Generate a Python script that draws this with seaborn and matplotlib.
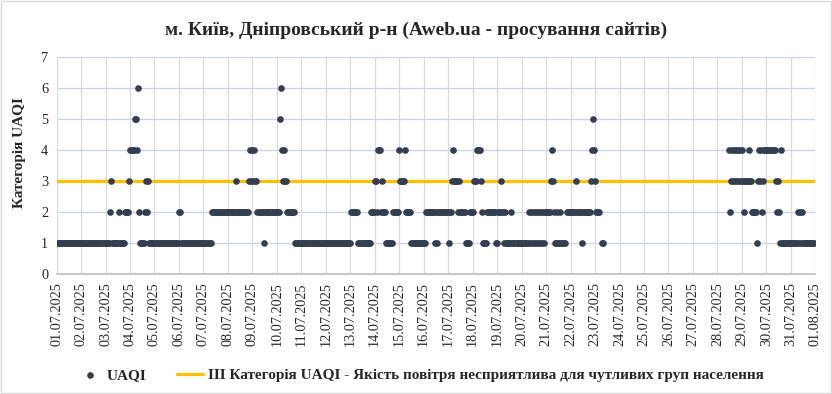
import matplotlib.pyplot as plt
import matplotlib.patches as mpatches
import seaborn as sns
import pandas as pd

title = "м. Київ, Дніпровський р-н (Aweb.ua - просування сайтів)"
y_label = "Категорія UAQI"
series_label = "UAQI"
threshold_label = "III Категорія UAQI - Якість повітря несприятлива для чутливих груп населення"
threshold_value = 3
y_ticks = [0, 1, 2, 3, 4, 5, 6, 7]
date_labels = [f"{d:02d}.07.2025" for d in range(1, 32)] + ["01.08.2025"]

# hourly UAQI category per day (00h..23h), '.' = no data
uaqi_hourly = [
    "111111111111111111111111",  # 01.07
    "111111111111111111111111",  # 02.07
    "111123111111121111122223",  # 03.07
    "444445546211111232311111",  # 04.07
    "111111111111111111111111",  # 05.07
    "221111111111111111111111",  # 06.07
    "111111112222222222222222",  # 07.07
    "222222223222222222222343",  # 08.07
    "434332222221222222222222",  # 09.07
    "222564343322222222111111",  # 10.07
    "111111111111111111111111",  # 11.07
    "111111111111111111111111",  # 12.07
    "122222221111111111112222",  # 13.07
    "332444232221111111222222",  # 14.07
    "433333422222111111111111",  # 15.07
    "112222222221212222222222",  # 16.07
    "212234333323222221111222",  # 17.07
    "233344443211112222222221",  # 18.07
    "122232212111112111111111",  # 19.07
    "111111121212121212121212",  # 20.07
    "222223432112112111112222",  # 21.07
    "222223222221222222223454",  # 22.07
    "32222..11...............",  # 23.07
    "........................",  # 24.07
    "........................",  # 25.07
    "........................",  # 26.07
    "........................",  # 27.07
    "...........4234343434343",  # 28.07
    "432333343322222134342344",  # 29.07
    "444444444323214111111111",  # 30.07
    "111111121212111111111111",  # 31.07
]

rows = []
for day, hours in enumerate(uaqi_hourly):
    for hour, ch in enumerate(hours):
        if ch != ".":
            rows.append((day + hour / 24, int(ch)))
df = pd.DataFrame(rows, columns=["t", "uaqi"])

sns.set_theme(style="white")
plt.rcParams["font.family"] = ["Liberation Serif", "DejaVu Serif"]

fig = plt.figure(figsize=(8.32, 3.94), dpi=100)
ax = fig.add_axes([0.068, 0.305, 0.912, 0.5505])

sns.scatterplot(data=df, x="t", y="uaqi", ax=ax, color="#333F50", s=23,
                linewidth=0, label=series_label, zorder=3)
ax.axhline(threshold_value, color="#FFC000", lw=2.3, label=threshold_label, zorder=2)

ax.set_xlim(0, len(date_labels) - 1)
ax.set_ylim(0, 7)
ax.set_xticks(range(len(date_labels)))
ax.set_xticklabels(date_labels, rotation=90, fontsize=10.3, color="#262626")
ax.set_yticks(y_ticks)
ax.set_yticklabels(y_ticks, fontsize=10.3, color="#262626")
ax.tick_params(length=0, pad=6)
ax.set_xlabel("")
ax.set_ylabel(y_label, fontsize=11, fontweight="bold")
ax.yaxis.set_label_coords(-0.04, 0.56)

for y in y_ticks[1:]:
    ax.axhline(y, color="#C5D3EC", lw=0.9, zorder=0)
for x in range(len(date_labels)):
    ax.axvline(x, color="#D9D9D9", lw=0.9, zorder=0)
for side in ["top", "right", "left"]:
    ax.spines[side].set_visible(False)
ax.spines["bottom"].set_color("#BFBFBF")

handles, labels = ax.get_legend_handles_labels()
ax.get_legend().remove()
fig.legend(handles, labels, loc="center", bbox_to_anchor=(0.505, 0.048), ncol=2,
           frameon=False, prop={"weight": "bold", "size": 11},
           handlelength=1.7, columnspacing=2.0, handletextpad=0.3)

fig.text(0.5, 1 - 30 / 394, title, ha="center", va="center",
         fontsize=14, fontweight="bold", color="#262626")

fig.patches.append(mpatches.Rectangle((0.001, 0.002), 0.998, 0.996, transform=fig.transFigure,
                                      fill=False, edgecolor="#D9D9D9", lw=1))

fig.savefig("out.png", dpi=100)
